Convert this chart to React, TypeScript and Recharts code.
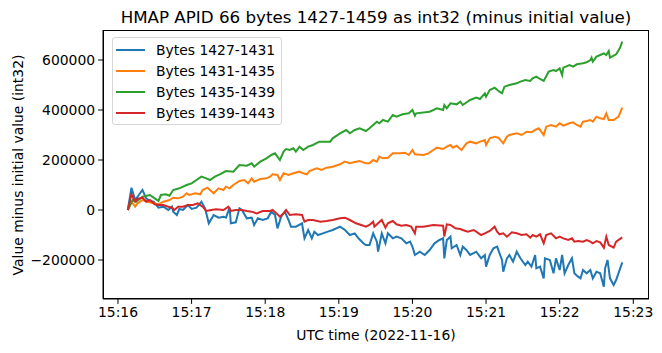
import { LineChart, Line, XAxis, YAxis } from 'recharts';

// seconds after 15:16:00 UTC, values are int32 minus initial value
const blueTimes = [8, 11, 14, 17, 20, 23, 26, 29, 33, 37, 41, 44, 45, 48, 50, 53, 57, 60, 64, 68, 71, 74, 78, 82, 86, 88, 91, 92, 96, 99, 101, 105, 109, 111, 114, 118, 122, 125, 128, 130, 133, 136, 139, 141, 145, 150, 152, 155, 158, 160, 163, 167, 171, 175, 181, 185, 189, 193, 196, 200, 202, 205, 208, 211, 212, 215, 218, 220, 224, 227, 231, 235, 238, 240, 242, 246, 250, 254, 258, 262, 265, 266, 268, 271, 272, 276, 279, 281, 284, 287, 292, 296, 299, 300, 303, 306, 309, 313, 314, 317, 319, 322, 325, 328, 332, 334, 337, 340, 341, 344, 347, 348, 352, 355, 357, 360, 362, 364, 367, 370, 372, 375, 377, 379, 382, 385, 387, 390, 393, 396, 397, 399, 401, 404, 406, 411];
const blueValues = [0, 89300, 40000, 60000, 80000, 46700, 36000, 33300, 9300, 13300, 0, 13300, -6700, -20000, 4000, 0, 20000, 4000, 9300, 33300, 6700, -53300, -20000, -30700, -26700, -30700, 9300, -53300, -49300, 6700, 0, -33300, -30700, -60000, -33300, -40000, -33300, -6700, -20000, -73300, -26700, -6700, -40000, -66700, -66700, -53300, -113300, -80000, -113300, -86700, -100000, -93300, -86700, -80000, -66700, -80000, -100000, -93300, -113300, -133300, -140000, -140000, -93300, -126700, -166700, -93300, -133300, -93300, -113300, -106700, -113300, -133300, -126700, -146700, -180000, -166700, -180000, -160000, -133300, -120000, -113300, -193300, -120000, -106700, -153300, -140000, -180000, -146700, -160000, -180000, -166700, -193300, -180000, -226700, -180000, -153300, -146700, -200000, -246700, -193300, -180000, -206700, -166700, -193300, -220000, -206700, -226700, -180000, -233300, -226700, -273300, -193300, -200000, -253300, -193300, -240000, -180000, -253300, -220000, -193300, -253300, -266700, -273300, -240000, -253300, -240000, -273300, -246700, -253300, -306700, -233300, -200000, -273300, -300000, -280000, -209300];

const orangeTimes = [8, 11, 14, 16, 20, 24, 29, 33, 37, 42, 45, 49, 53, 56, 58, 63, 67, 69, 73, 78, 82, 86, 88, 91, 94, 99, 103, 106, 109, 111, 116, 121, 124, 126, 130, 132, 135, 139, 143, 148, 151, 154, 156, 162, 166, 170, 175, 181, 185, 189, 194, 197, 202, 205, 208, 211, 213, 216, 220, 224, 230, 234, 237, 240, 242, 249, 253, 257, 260, 265, 268, 271, 273, 276, 280, 284, 287, 292, 295, 299, 300, 303, 307, 310, 314, 317, 319, 325, 329, 333, 337, 340, 343, 347, 349, 353, 357, 360, 363, 368, 371, 374, 377, 379, 382, 385, 387, 390, 393, 396, 398, 400, 404, 408, 411];
const orangeValues = [0, 33300, 13300, 26700, 40000, 33300, 26700, 22700, 33300, 40000, 49300, 46700, 53300, 66700, 60000, 66700, 62700, 80000, 89300, 66700, 86700, 80000, 93300, 86700, 100000, 116000, 120000, 106700, 126700, 113300, 124000, 126700, 133300, 142700, 140000, 120000, 146700, 140000, 146700, 153300, 146700, 142700, 156000, 166700, 160000, 169300, 173300, 182700, 193300, 186700, 193300, 196000, 186700, 186700, 200000, 193300, 213300, 206700, 209300, 226700, 226700, 229300, 220000, 240000, 222700, 220000, 226700, 240000, 249300, 244000, 253300, 260000, 249300, 257300, 240000, 266700, 273300, 266700, 273300, 280000, 260000, 286700, 293300, 289300, 266700, 293300, 300000, 306700, 300000, 313300, 310700, 320000, 326700, 300000, 333300, 340000, 333300, 346700, 337300, 346700, 350700, 340000, 333300, 353300, 356000, 360000, 353300, 373300, 366700, 364000, 386700, 360000, 360000, 373300, 409300];

const greenTimes = [8, 12, 15, 20, 26, 30, 33, 35, 39, 42, 45, 50, 56, 60, 64, 68, 72, 75, 79, 83, 88, 94, 99, 105, 109, 111, 116, 121, 125, 128, 132, 135, 137, 140, 143, 145, 148, 151, 155, 159, 164, 173, 175, 181, 186, 189, 193, 197, 202, 205, 208, 211, 213, 216, 220, 224, 227, 232, 237, 240, 242, 243, 254, 260, 265, 266, 268, 271, 276, 279, 281, 287, 292, 295, 299, 300, 303, 307, 311, 313, 315, 319, 325, 328, 332, 336, 338, 341, 344, 347, 351, 355, 357, 360, 362, 363, 368, 371, 374, 379, 382, 385, 386, 387, 390, 393, 396, 398, 400, 401, 404, 406, 409, 411];
const greenValues = [0, 40000, 33300, 53300, 60000, 46700, 36000, 60000, 62700, 57300, 80000, 86700, 100000, 106700, 120000, 133300, 126700, 120000, 133300, 142700, 156000, 153300, 180000, 177300, 186700, 173300, 193300, 206700, 220000, 226700, 200000, 233300, 244000, 240000, 246700, 233300, 253300, 240000, 253300, 260000, 273300, 273300, 286700, 306700, 320000, 306700, 320000, 326700, 316000, 326700, 340000, 353300, 346700, 360000, 353300, 380000, 373300, 382700, 386700, 400000, 377300, 386700, 393300, 406700, 400000, 420000, 406700, 426700, 422700, 433300, 420000, 440000, 449300, 444000, 466700, 453300, 480000, 489300, 473300, 466700, 493300, 500000, 506700, 513300, 520000, 516000, 526700, 533300, 524000, 516000, 553300, 560000, 556000, 566700, 540000, 569300, 580000, 573300, 582700, 586700, 590700, 600000, 609300, 593300, 613300, 620000, 626700, 620000, 636000, 609300, 617300, 622700, 646700, 673300];

const redTimes = [8, 11, 14, 16, 20, 23, 26, 30, 33, 37, 41, 44, 46, 49, 53, 57, 61, 65, 69, 72, 76, 80, 86, 90, 92, 96, 101, 105, 109, 113, 118, 124, 126, 129, 132, 135, 137, 140, 145, 150, 152, 155, 159, 165, 170, 175, 181, 185, 189, 194, 200, 202, 205, 208, 209, 212, 215, 218, 220, 224, 227, 231, 235, 239, 242, 243, 249, 257, 265, 266, 268, 271, 275, 279, 281, 285, 290, 294, 296, 299, 303, 307, 309, 311, 314, 317, 321, 325, 329, 333, 336, 338, 341, 344, 347, 349, 353, 357, 360, 363, 367, 370, 372, 375, 379, 382, 385, 387, 390, 393, 396, 398, 400, 404, 406, 411];
const redValues = [0, 62700, 33300, 44000, 49300, 33300, 40000, 22700, 20000, 20000, 13300, 9300, 0, 13300, 13300, 20000, 20000, 26700, 13300, -4000, 0, 2700, 0, 13300, -4000, 0, 0, -4000, -6700, -13300, -4000, -4000, 0, -13300, -26700, -13300, 0, -20000, -17300, -20000, -46700, -40000, -40000, -46700, -44000, -40000, -33300, -30700, -40000, -53300, -62700, -66700, -60000, -46700, -66700, -53300, -40000, -70700, -53300, -44000, -57300, -62700, -60000, -66700, -93300, -66700, -66700, -60000, -62700, -106700, -57300, -60000, -73300, -76000, -80000, -86700, -80000, -93300, -100000, -93300, -84000, -66700, -86700, -97300, -93300, -106700, -89300, -93300, -100000, -97300, -110700, -100000, -106700, -97300, -133300, -100000, -93300, -113300, -106700, -113300, -120000, -113300, -126700, -124000, -126700, -120000, -126700, -133300, -124000, -129300, -150700, -106700, -140000, -150700, -126700, -109300];

const seriesNames = ['Bytes 1427-1431', 'Bytes 1431-1435', 'Bytes 1435-1439', 'Bytes 1439-1443'];
const seriesColors = ['#1f77b4', '#ff7f0e', '#2ca02c', '#d62728'];
const xTicks = [0, 60, 120, 180, 240, 300, 360, 420];
const yTicks = [-200000, 0, 200000, 400000, 600000];

const toRows = (times: number[], values: number[]) => times.map((t, i) => ({ t, v: values[i] }));
const series = [
  toRows(blueTimes, blueValues),
  toRows(orangeTimes, orangeValues),
  toRows(greenTimes, greenValues),
  toRows(redTimes, redValues),
];

const font = '"DejaVu Sans", sans-serif';
const tickStyle = { fontSize: 13.9, fill: '#000', fontFamily: font };

const fmtTime = (s: number) => `15:${16 + Math.round(s / 60)}`;
const fmtValue = (v: number) => (v < 0 ? '\u2212' + Math.abs(v) : String(v));

const LegendBox = () => (
  <div
    style={{
      position: 'absolute',
      left: 112,
      top: 37,
      background: 'rgba(255,255,255,0.8)',
      border: '1px solid #d6d6d6',
      borderRadius: 3,
      padding: '1px 6px 1px 3px',
      fontSize: 13.9,
      color: '#000',
      zIndex: 2,
    }}
  >
    {seriesNames.map((name, i) => (
      <div key={name} style={{ display: 'flex', alignItems: 'center', height: 21 }}>
        <span style={{ display: 'inline-block', width: 29, height: 2, background: seriesColors[i], marginRight: 11 }} />
        <span style={{ whiteSpace: 'nowrap' }}>{name}</span>
      </div>
    ))}
  </div>
);

export default function App() {
  return (
    <div style={{ position: 'absolute', left: 0, top: 0, width: 662, height: 353, background: '#fff', fontFamily: font }}>
      <div style={{ position: 'absolute', left: 103, width: 546, top: 6, textAlign: 'center', fontSize: 16.7, lineHeight: '22px', color: '#000' }}>
        HMAP APID 66 bytes 1427-1459 as int32 (minus initial value)
      </div>
      <div
        style={{
          position: 'absolute', left: 18, top: 165, transform: 'translate(-50%, -50%) rotate(-90deg)',
          whiteSpace: 'nowrap', fontSize: 13.9, color: '#000',
        }}
      >
        Value minus initial value (int32)
      </div>
      <div style={{ position: 'absolute', left: 103, width: 546, top: 325, textAlign: 'center', fontSize: 13.9, lineHeight: '20px', color: '#000' }}>
        UTC time (2022-11-16)
      </div>
      <LineChart width={662} height={353} margin={{ top: 30, right: 13, left: 0, bottom: 0 }}>
        <XAxis
          dataKey="t"
          type="number"
          domain={[-12.2, 432.8]}
          allowDataOverflow
          ticks={xTicks}
          tickFormatter={fmtTime}
          tick={tickStyle}
          tickSize={4.9}
          tickMargin={3}
          height={54}
          stroke="#000"
          interval={0}
        />
        <YAxis
          type="number"
          domain={[-356000, 720000]}
          allowDataOverflow
          ticks={yTicks}
          tickFormatter={fmtValue}
          tick={tickStyle}
          tickSize={4.9}
          tickMargin={3}
          width={103}
          stroke="#000"
          interval={0}
        />
        {series.map((rows, i) => (
          <Line
            key={seriesNames[i]}
            data={rows}
            dataKey="v"
            name={seriesNames[i]}
            type="linear"
            stroke={seriesColors[i]}
            strokeWidth={2}
            dot={false}
            activeDot={false}
            isAnimationActive={false}
          />
        ))}
      </LineChart>
      {/* axes frame (top and right spines) */}
      <div
        style={{
          position: 'absolute', left: 103, top: 30, width: 546, height: 269,
          border: '1px solid #000', boxSizing: 'border-box', pointerEvents: 'none',
        }}
      />
      <LegendBox />
    </div>
  );
}
